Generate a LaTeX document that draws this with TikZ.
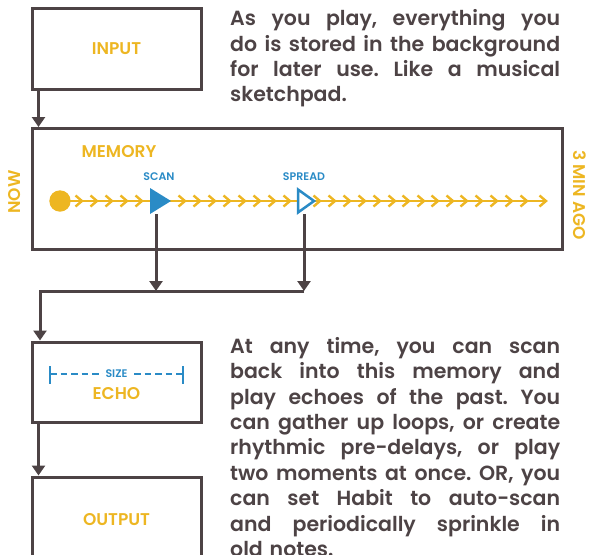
\documentclass[tikz,border=0pt]{standalone}
\usepackage{fontspec}
\setmainfont{Poppins}[BoldFont={Poppins SemiBold}]
\usetikzlibrary{arrows.meta}
\definecolor{ink}{RGB}{77,67,69}
\definecolor{gold}{RGB}{237,182,34}
\definecolor{sky}{RGB}{42,139,198}
\newcommand\jline[1]{\leavevmode\hbox to 330pt{\frenchspacing\spaceskip=\fontdimen2\font plus 1fil\relax #1}\\}
\tikzset{
  box/.style={draw=ink, line width=3pt, inner sep=0pt},
  lbl/.style={text=gold, font=\bfseries\fontsize{17}{17}\selectfont},
  conn/.style={draw=ink, line width=3pt, -{Triangle[width=13pt,length=10pt]}},
  para/.style={text=ink, font=\bfseries\fontsize{20.5}{25.4}\selectfont, text width=330pt, align=left, inner sep=0pt, anchor=north west},
  tag/.style={text=sky, font=\bfseries\fontsize{11}{11}\selectfont},
  chev/.style={draw=gold, line width=2.4pt},
}
\begin{document}
\begin{tikzpicture}[x=1pt,y=-1pt]
\useasboundingbox (0,0) rectangle (590,555);
% boxes
\node[box, lbl, minimum width=169pt, minimum height=81.5pt] (input) at (116.5,48.75) {INPUT};
\node[box, minimum width=530pt, minimum height=121pt] (memory) at (297,189) {};
\node[box, minimum width=169pt, minimum height=80pt] (echo) at (116.5,382) {};
\node[box, lbl, minimum width=169pt, minimum height=86pt] (output) at (116.5,520) {OUTPUT};
% labels
\node[lbl] (memlbl) at (119,152) {MEMORY};
\node[lbl] (echolbl) at (116.5,394) {ECHO};
\node[lbl, rotate=90] (now) at (15,192) {NOW};
\node[lbl, rotate=-90] (ago) at (580,195) {3 MIN AGO};
% timeline
\draw[gold, line width=2.5pt] (60,201) -- (544,201);
\fill[gold] (60,201) circle (10.7);
\foreach \x in {82,97,112,127,142,185,200,215,230,245,260,275,290,320,335,350,365,380,395,409,424,438,453,467,482,497,512,527,546}
  \draw[chev, line join=miter] (\x-6.5,195.5) -- (\x,201) -- (\x-6.5,206.5);
\fill[sky] (150,188) -- (150,214) -- (171,201) -- cycle;
\filldraw[fill=white, draw=sky, line width=2.5pt, line join=miter] (298,189.5) -- (298,212.5) -- (314,201) -- cycle;
\node[tag] (scanlbl) at (159,177) {SCAN};
\node[tag] (spreadlbl) at (304,177) {SPREAD};
% connectors
\coordinate (scanb) at (156,214);
\coordinate (spreadb) at (304,214);
\coordinate (join) at (304,291);
\coordinate (turn) at (40,291);
\draw[conn] ([xshift=8pt]input.south west) -- ([xshift=8pt]input.south west |- memory.north);
\draw[conn] (scanb) -- (scanb |- join);
\draw[conn] (spreadb) -- (join);
\draw[conn, line join=miter] (join) -- (turn) -- (turn |- echo.north);
\draw[conn] ([xshift=8pt]echo.south west) -- ([xshift=8pt]echo.south west |- output.north);
% size bracket
\draw[sky, line width=2.2pt, dash pattern=on 6.5pt off 4pt] (50,374) -- (183,374);
\draw[sky, line width=2.2pt] (50,366) -- (50,384) (183,366) -- (183,384);
\node[tag, fill=white, inner sep=2.5pt] (size) at (116.5,374) {SIZE};
% paragraphs
\node[para] (p1) at (230,9.5) {\jline{As you play, everything you}\jline{do is stored in the background}\jline{for later use. Like a musical}sketchpad.};
\node[para] (p2) at (230,337) {\jline{At any time, you can scan}\jline{back into this memory and}\jline{play echoes of the past. You}\jline{can gather up loops, or create}\jline{rhythmic pre-delays, or play}\jline{two moments at once. OR, you}\jline{can set Habit to auto-scan}\jline{and periodically sprinkle in}old notes.};
\end{tikzpicture}
\end{document}
